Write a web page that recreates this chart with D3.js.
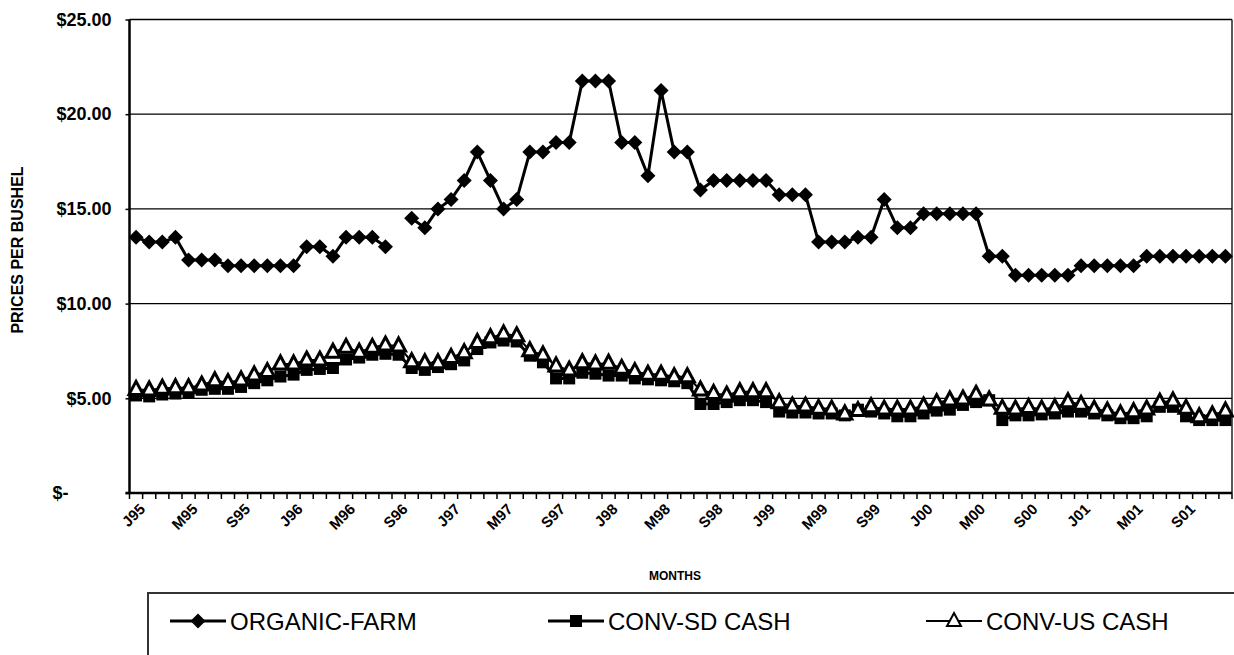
<!DOCTYPE html>
<html>
<head>
<meta charset="utf-8">
<script src="https://cdnjs.cloudflare.com/ajax/libs/d3/7.8.5/d3.min.js"></script>
<style>
  body { margin: 0; background: #fff; }
  svg { display: block; font-family: Arial, "Liberation Sans", sans-serif; }
</style>
</head>
<body>
<div id="plot"></div>
<script>
var width = 1234;
var height = 655;

// categories: Jan 1995 .. Dec 2001
var years = ['95', '96', '97', '98', '99', '00', '01'];
var monthNames = ['Jan', 'Feb', 'Mar', 'Apr', 'May', 'Jun', 'Jul', 'Aug', 'Sep', 'Oct', 'Nov', 'Dec'];
var months = [];
years.forEach(function(y) {
    monthNames.forEach(function(m) { months.push(m + y); });
});

// labels shown every 4th month
var tickLabels = ['J95', 'M95', 'S95', 'J96', 'M96', 'S96', 'J97', 'M97', 'S97', 'J98', 'M98',
                  'S98', 'J99', 'M99', 'S99', 'J00', 'M00', 'S00', 'J01', 'M01', 'S01'];

var yTicks = [0, 5, 10, 15, 20, 25];

var organic = [13.5, 13.25, 13.25, 13.5, 12.3, 12.3, 12.3, 12.0, 12.0, 12.0, 12.0, 12.0,
               12.0, 13.0, 13.0, 12.5, 13.5, 13.5, 13.5, 13.0, null, 14.5, 14.0, 15.0,
               15.5, 16.5, 18.0, 16.5, 15.0, 15.5, 18.0, 18.0, 18.5, 18.5, 21.75, 21.75,
               21.75, 18.5, 18.5, 16.75, 21.25, 18.0, 18.0, 16.0, 16.5, 16.5, 16.5, 16.5,
               16.5, 15.75, 15.75, 15.75, 13.25, 13.25, 13.25, 13.5, 13.5, 15.5, 14.0, 14.0,
               14.75, 14.75, 14.75, 14.75, 14.75, 12.5, 12.5, 11.5, 11.5, 11.5, 11.5, 11.5,
               12.0, 12.0, 12.0, 12.0, 12.0, 12.5, 12.5, 12.5, 12.5, 12.5, 12.5, 12.5];

var sdCash = [5.15, 5.1, 5.2, 5.25, 5.3, 5.45, 5.5, 5.5, 5.6, 5.8, 5.95, 6.15,
              6.25, 6.5, 6.55, 6.6, 7.05, 7.15, 7.3, 7.35, 7.3, 6.6, 6.5, 6.65,
              6.8, 7.0, 7.6, 7.95, 8.05, 8.0, 7.25, 6.9, 6.05, 6.05, 6.35, 6.3,
              6.2, 6.2, 6.05, 6.0, 5.95, 5.9, 5.8, 4.7, 4.7, 4.8, 4.9, 4.9,
              4.8, 4.3, 4.25, 4.25, 4.2, 4.2, 4.1, 4.4, 4.3, 4.2, 4.05, 4.05,
              4.2, 4.35, 4.4, 4.65, 4.8, 4.9, 3.85, 4.1, 4.1, 4.15, 4.2, 4.3,
              4.3, 4.2, 4.1, 3.95, 3.95, 4.05, 4.55, 4.55, 4.05, 3.85, 3.85, 3.85];

var usCash = [5.47, 5.44, 5.53, 5.56, 5.56, 5.7, 5.93, 5.83, 5.97, 6.23, 6.41, 6.81,
              6.81, 7.02, 7.02, 7.43, 7.69, 7.43, 7.69, 7.81, 7.76, 6.93, 6.88, 6.88,
              7.16, 7.41, 7.95, 8.2, 8.4, 8.3, 7.51, 7.29, 6.71, 6.49, 6.88, 6.81,
              6.85, 6.58, 6.41, 6.27, 6.27, 6.14, 6.14, 5.44, 5.26, 5.17, 5.35, 5.35,
              5.35, 4.77, 4.59, 4.59, 4.47, 4.43, 4.17, 4.35, 4.56, 4.43, 4.43, 4.43,
              4.59, 4.77, 4.91, 4.96, 5.21, 4.91, 4.47, 4.43, 4.52, 4.43, 4.5, 4.82,
              4.68, 4.42, 4.33, 4.17, 4.29, 4.43, 4.79, 4.86, 4.47, 4.03, 4.12, 4.33];

var seriesNames = ['ORGANIC-FARM', 'CONV-SD CASH', 'CONV-US CASH'];

var plot_left = 129.5, plot_right = 1232, plot_top = 19.5, plot_bottom = 493;

var canvas = d3.select('#plot')
    .append('svg')
    .attr('width', width)
    .attr('height', height);

var x_scale = d3.scaleBand()
    .domain(months)
    .range([plot_left, plot_right]);
var bw = x_scale.bandwidth();
function cx(i) { return x_scale(months[i]) + bw / 2; }

var y_scale = d3.scaleLinear()
    .domain([0, 25])
    .range([plot_bottom, plot_top]);

// y labels and small outer ticks
var y_axis = d3.axisLeft(y_scale)
    .tickValues(yTicks)
    .tickSize(4)
    .tickPadding(14)
    .tickFormat(function(d) { return d === 0 ? '$-' : '$' + d.toFixed(2); });

var yg = canvas.append('g')
    .attr('class', 'y-axis')
    .attr('transform', 'translate(' + plot_left + ',0)')
    .call(y_axis);
yg.select('.domain').remove();
yg.selectAll('line').attr('stroke', '#000').attr('stroke-width', 1.5);
yg.selectAll('text')
    .attr('font-size', 18)
    .attr('font-weight', 'bold')
    .attr('fill', '#000')
    .attr('dx', function(d) { return d === 0 ? -43 : 0; });

// gridlines
canvas.append('g')
    .attr('class', 'grid')
    .selectAll('line')
    .data(yTicks)
    .enter()
    .append('line')
    .attr('x1', plot_left)
    .attr('x2', plot_right)
    .attr('y1', function(d) { return y_scale(d); })
    .attr('y2', function(d) { return y_scale(d); })
    .attr('stroke', '#000')
    .attr('stroke-width', 1.3);

// plot frame
canvas.append('line')
    .attr('x1', plot_right).attr('x2', plot_right)
    .attr('y1', plot_top).attr('y2', plot_bottom)
    .attr('stroke', '#000').attr('stroke-width', 1.3);
canvas.append('line')
    .attr('x1', plot_left).attr('x2', plot_left)
    .attr('y1', plot_top).attr('y2', plot_bottom + 1)
    .attr('stroke', '#000').attr('stroke-width', 2.5);
canvas.append('line')
    .attr('x1', plot_left - 4).attr('x2', plot_right)
    .attr('y1', plot_bottom).attr('y2', plot_bottom)
    .attr('stroke', '#000').attr('stroke-width', 2.5);

// x tick marks at category boundaries
canvas.selectAll('line.x-tick')
    .data(months.concat(['end']))
    .enter()
    .append('line')
    .attr('class', 'x-tick')
    .attr('x1', function(d) { return d === 'end' ? plot_right : x_scale(d); })
    .attr('x2', function(d) { return d === 'end' ? plot_right : x_scale(d); })
    .attr('y1', plot_bottom)
    .attr('y2', plot_bottom + 6)
    .attr('stroke', '#000')
    .attr('stroke-width', 1.5);

// x labels, turned 45 degrees, right end under the month
canvas.selectAll('text.x-label')
    .data(tickLabels)
    .enter()
    .append('text')
    .attr('class', 'x-label')
    .attr('text-anchor', 'end')
    .attr('font-size', 15)
    .attr('font-weight', 'bold')
    .attr('transform', function(d, i) {
        return 'translate(' + (cx(i * 4) + 10) + ',' + (plot_bottom + 17) + ') rotate(-45)';
    })
    .text(function(d) { return d; });

// axis titles
canvas.append('text')
    .attr('x', -250)
    .attr('y', 23)
    .attr('transform', 'rotate(-90)')
    .attr('text-anchor', 'middle')
    .attr('font-size', 16)
    .attr('font-weight', 'bold')
    .text('PRICES PER BUSHEL');

canvas.append('text')
    .attr('x', 675)
    .attr('y', 580)
    .attr('text-anchor', 'middle')
    .attr('font-size', 12)
    .attr('font-weight', 'bold')
    .text('MONTHS');

// marker shapes
var diamondPath = 'M0,-7.5L7.5,0L0,7.5L-7.5,0Z';
var squarePath = 'M-6,-6L6,-6L6,6L-6,6Z';
var trianglePath = 'M0,-8L7,5L-7,5Z';

function drawSeries(values, cls, lineWidth) {
    var pts = values.map(function(v, i) { return [i, v]; });
    var line = d3.line()
        .defined(function(d) { return d[1] !== null; })
        .x(function(d) { return cx(d[0]); })
        .y(function(d) { return y_scale(d[1]); });
    canvas.append('path')
        .datum(pts)
        .attr('class', cls + '-line')
        .attr('d', line)
        .attr('fill', 'none')
        .attr('stroke', '#000')
        .attr('stroke-width', lineWidth)
        .attr('stroke-linejoin', 'round');
    return pts.filter(function(d) { return d[1] !== null; });
}

var sdPts = drawSeries(sdCash, 'sd', 3);
canvas.selectAll('path.sd-mark')
    .data(sdPts)
    .enter()
    .append('path')
    .attr('class', 'sd-mark')
    .attr('d', squarePath)
    .attr('transform', function(d) { return 'translate(' + cx(d[0]) + ',' + y_scale(d[1]) + ')'; })
    .attr('fill', '#000');

var usPts = drawSeries(usCash, 'us', 2);
canvas.selectAll('path.us-mark')
    .data(usPts)
    .enter()
    .append('path')
    .attr('class', 'us-mark')
    .attr('d', trianglePath)
    .attr('transform', function(d) { return 'translate(' + cx(d[0]) + ',' + y_scale(d[1]) + ')'; })
    .attr('fill', '#fff')
    .attr('stroke', '#000')
    .attr('stroke-width', 3);

var orgPts = drawSeries(organic, 'org', 3);
canvas.selectAll('path.org-mark')
    .data(orgPts)
    .enter()
    .append('path')
    .attr('class', 'org-mark')
    .attr('d', diamondPath)
    .attr('transform', function(d) { return 'translate(' + cx(d[0]) + ',' + y_scale(d[1]) + ')'; })
    .attr('fill', '#000');

// legend
var legend = canvas.append('g').attr('class', 'legend');
legend.append('rect')
    .attr('x', 148)
    .attr('y', 593)
    .attr('width', 1120)
    .attr('height', 90)
    .attr('fill', '#fff')
    .attr('stroke', '#333')
    .attr('stroke-width', 2);

var legendX = [170, 548, 926];
var legendShapes = [diamondPath, squarePath, trianglePath];
seriesNames.forEach(function(name, i) {
    var g = legend.append('g').attr('transform', 'translate(' + legendX[i] + ',621)');
    g.append('line')
        .attr('x1', 0).attr('x2', 56)
        .attr('y1', 0).attr('y2', 0)
        .attr('stroke', '#000')
        .attr('stroke-width', i === 2 ? 2 : 3);
    g.append('path')
        .attr('d', legendShapes[i])
        .attr('transform', 'translate(28,0)')
        .attr('fill', i === 2 ? '#fff' : '#000')
        .attr('stroke', i === 2 ? '#000' : 'none')
        .attr('stroke-width', 2);
    g.append('text')
        .attr('x', 60)
        .attr('y', 9)
        .attr('font-size', 24)
        .text(name);
});
</script>
</body>
</html>
